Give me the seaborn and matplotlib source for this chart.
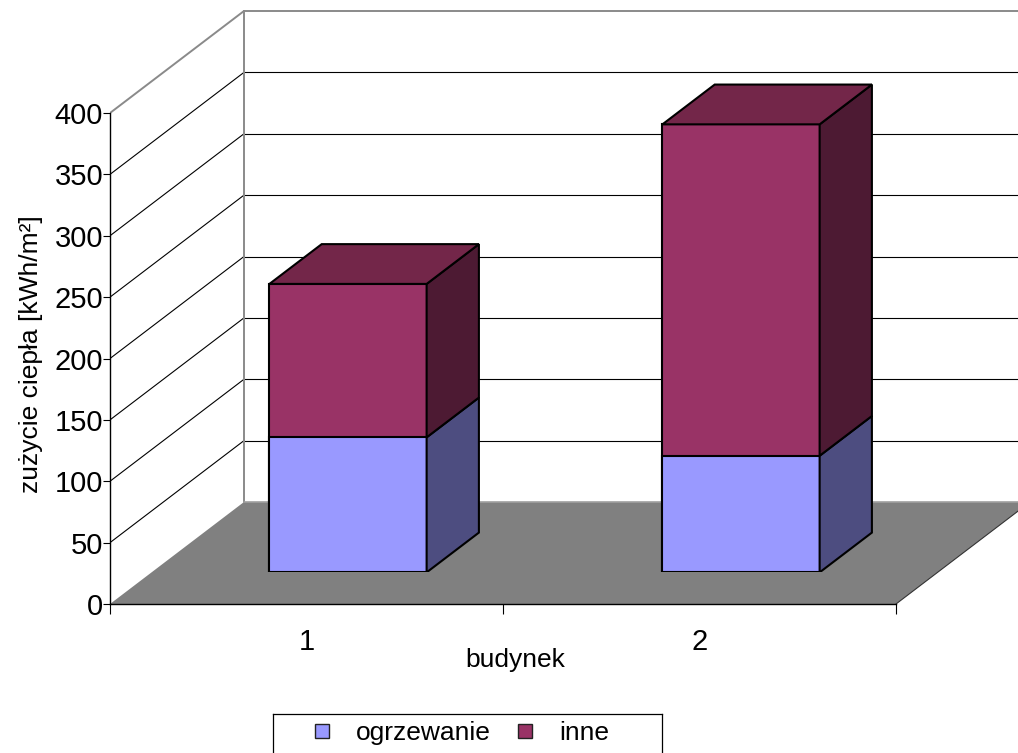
import matplotlib
matplotlib.use("Agg")
import matplotlib.pyplot as plt
import numpy as np
import pandas as pd
import seaborn as sns
from matplotlib.patches import Polygon
from matplotlib.lines import Line2D

# ---- data -------------------------------------------------------------
buildings = ["1", "2"]
heating = [110, 95]        # ogrzewanie
other = [125, 270]         # inne
series_labels = ["ogrzewanie", "inne"]
y_ticks = [0, 50, 100, 150, 200, 250, 300, 350, 400]
x_label = "budynek"
y_label = "zużycie ciepła [kWh/m²]"

# ---- style ------------------------------------------------------------
sns.set_theme(style="white")
plt.rcParams["font.family"] = ["Liberation Sans", "DejaVu Sans"]

heat_front, heat_side = "#9999FF", "#4D4D80"
other_front, other_side, other_top = "#993366", "#4D1A33", "#732649"
floor_col = "#808080"
wall_col = "#8A8A8A"
EDGE_LW = 1.5
GRID_LW = 0.8

# ---- geometry (pixels) -------------------------------------------------
W, H = 1018, 753
X0, Y0 = 110, 604           # front-left corner of the floor
PX_CAT = 393.0              # pixels per category
PX_VAL = 1.2275             # pixels per value unit
DEPTH_PX = (134.0, 102.0)   # shift from the front edge to the back wall
BAR_F0, BAR_F1 = 0.31, 0.70 # depth of bar front / back faces
BAR_W = 0.4

fig = plt.figure(figsize=(W / 100, H / 100), dpi=100)


def add_axes_px(left, bottom, right, top, **kw):
    return fig.add_axes([left / W, 1 - bottom / H, (right - left) / W, (bottom - top) / H], **kw)


# main axes: front plane of the chart
ax = add_axes_px(X0, Y0, W, 0)
ax.set_xlim(0, (W - X0) / PX_CAT)
ax.set_ylim(0, Y0 / PX_VAL)
ddx = DEPTH_PX[0] / PX_CAT
ddy = DEPTH_PX[1] / PX_VAL
xmax = ax.get_xlim()[1]
top = y_ticks[-1]

# side wall diagonals and back wall grid
for t in y_ticks[1:]:
    c = wall_col if t == top else "black"
    lw = 1.4 if t == top else GRID_LW
    ax.plot([0, ddx], [t, t + ddy], color=c, lw=lw, zorder=1)
    ax.plot([ddx, xmax], [t + ddy, t + ddy], color=c, lw=lw, zorder=1)
ax.plot([ddx, ddx], [ddy, top + ddy], color=wall_col, lw=1.4, zorder=1)

# floor
n = len(buildings)
ax.add_patch(Polygon([(0, 0), (n, 0), (n + ddx, ddy), (ddx, ddy)],
                     closed=True, facecolor=floor_col, edgecolor="none", zorder=2))
ax.plot([ddx, xmax], [ddy, ddy], color="#A0A0A0", lw=1.2, zorder=2.5)
ax.plot([n, n + ddx], [0, ddy], color="#333333", lw=GRID_LW, zorder=2.5)

# axes, ticks
for s in ["top", "right"]:
    ax.spines[s].set_visible(False)
ax.spines["left"].set_bounds(0, top)
ax.spines["bottom"].set_bounds(0, n)
for s in ["left", "bottom"]:
    ax.spines[s].set_color("black")
    ax.spines[s].set_linewidth(1.0)
    ax.spines[s].set_zorder(3)
ax.set_yticks(y_ticks)
ax.set_yticklabels([str(v) for v in y_ticks], fontsize=21)
ax.tick_params(axis="y", which="major", direction="out", length=5, width=0.8, pad=0,
               left=True, color="black", labelcolor="black")
ax.set_xticks(np.arange(n + 1))
ax.set_xticklabels([])
ax.tick_params(axis="x", which="major", direction="out", length=7.5, width=0.8,
               bottom=True, color="black")
ax.set_xticks(np.arange(n) + 0.5, minor=True)
ax.set_xticklabels(buildings, minor=True, fontsize=21)
ax.tick_params(axis="x", which="minor", length=0, pad=17, labelcolor="black")
ax.grid(False)

ax.set_ylabel(y_label, fontsize=19, color="black")
ax.yaxis.set_label_coords((43 - X0) / (W - X0), (Y0 - 354) / Y0)
ax.set_xlabel(x_label, fontsize=19, color="black")
ax.xaxis.set_label_coords((515.5 - X0) / (W - X0), (Y0 - 648) / Y0)

# bar plane: same scales, shifted into the depth of the floor
bx0 = X0 + BAR_F0 * DEPTH_PX[0]
by0 = Y0 - BAR_F0 * DEPTH_PX[1]
bax = add_axes_px(bx0, by0, W, 0)
bax.set_zorder(ax.get_zorder() + 1)

df = pd.DataFrame({"budynek": buildings, "ogrzewanie": heating, "inne": other})
df["razem"] = df["ogrzewanie"] + df["inne"]

sns.barplot(data=df, x="budynek", y="razem", color=other_front, saturation=1,
            width=BAR_W, edgecolor="black", linewidth=EDGE_LW, errorbar=None, ax=bax)
sns.barplot(data=df, x="budynek", y="ogrzewanie", color=heat_front, saturation=1,
            width=BAR_W, edgecolor="black", linewidth=EDGE_LW, errorbar=None, ax=bax)
bax.set_xlim(-0.5, -0.5 + (W - bx0) / PX_CAT)
bax.set_ylim(0, by0 / PX_VAL)
bax.axis("off")

bdx = (BAR_F1 - BAR_F0) * ddx
bdy = (BAR_F1 - BAR_F0) * ddy
half = BAR_W / 2
for i, (h, tot) in enumerate(zip(df["ogrzewanie"], df["razem"])):
    xr = i + half
    for lo, hi, col in [(0, h, heat_side), (h, tot, other_side)]:
        bax.add_patch(Polygon([(xr, lo), (xr + bdx, lo + bdy), (xr + bdx, hi + bdy), (xr, hi)],
                              closed=True, facecolor=col, edgecolor="black",
                              linewidth=EDGE_LW, joinstyle="miter", zorder=3))
    bax.add_patch(Polygon([(i - half, tot), (xr, tot), (xr + bdx, tot + bdy), (i - half + bdx, tot + bdy)],
                          closed=True, facecolor=other_top, edgecolor="black",
                          linewidth=EDGE_LW, joinstyle="miter", zorder=3))

# legend box
lax = add_axes_px(273, 756, 662, 714)
lax.set_xticks([])
lax.set_yticks([])
lax.set_facecolor("white")
for s in lax.spines.values():
    s.set_visible(True)
    s.set_color("black")
    s.set_linewidth(0.9)
handles = [Line2D([], [], marker="s", linestyle="none", markersize=9.5,
                  markerfacecolor=c, markeredgecolor="#222222", markeredgewidth=1.0)
           for c in (heat_front, other_front)]
lax.legend(handles, series_labels, loc="center", bbox_to_anchor=(0.5 - 6 / 389, 0.55),
           ncol=2, frameon=False, fontsize=19, handlelength=0.6, handletextpad=1.0,
           columnspacing=1.0, borderpad=0.1, labelcolor="black")

fig.savefig("out.png", dpi=100, facecolor="white")
